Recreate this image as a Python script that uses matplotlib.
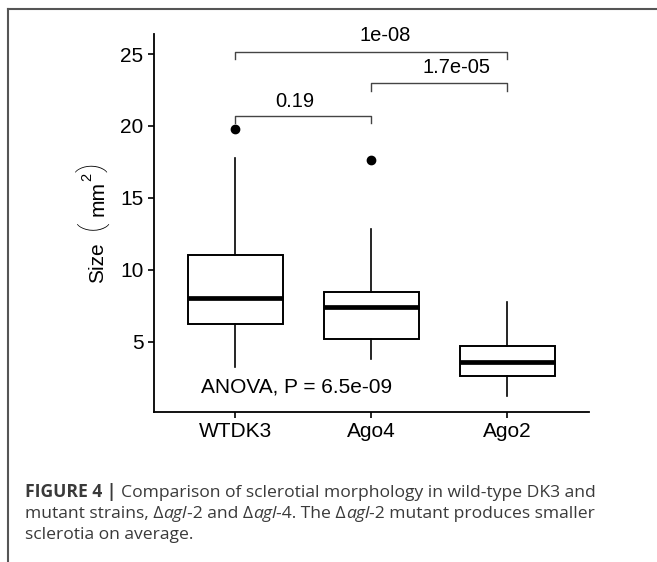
import matplotlib
matplotlib.use("Agg")
import matplotlib.pyplot as plt
from matplotlib.lines import Line2D

plt.rcParams['font.family'] = ['Liberation Sans', 'DejaVu Sans']

# data
groups = ["WTDK3", "Ago4", "Ago2"]
q1 = [6.2, 5.2, 2.63]
medians = [8.05, 7.4, 3.6]
q3 = [11.02, 8.45, 4.7]
whis_lo = [3.25, 3.77, 1.22]
whis_hi = [17.79, 12.8, 7.73]
fliers = [[19.8], [17.65], []]

pairs = [(1, 3), (2, 3), (1, 2)]
pair_labels = ["1e-08", "1.7e-05", "0.19"]
bracket_y = [25.16, 22.96, 20.71]
tip_y = [24.63, 22.43, 20.22]
label_x = [2.10, 2.63, 1.435]
label_y = [26.27, 24.07, 21.73]

anova_text = "ANOVA, P = 6.5e-09"

W, H = 657, 562
fig = plt.figure(figsize=(W / 100, H / 100), dpi=100)
ax = fig.add_axes([153.5 / W, 1 - 412 / H, (589 - 153.5) / W, (412 - 34.3) / H])

stats = []
for i, g in enumerate(groups):
    stats.append(dict(label=g, q1=q1[i], med=medians[i], q3=q3[i],
                      whislo=whis_lo[i], whishi=whis_hi[i], fliers=fliers[i]))

ax.bxp(stats, positions=[1, 2, 3], widths=0.7, showcaps=False, patch_artist=True,
       boxprops=dict(facecolor='white', edgecolor='black', linewidth=1.4),
       medianprops=dict(color='black', linewidth=3.4, solid_capstyle='butt'),
       whiskerprops=dict(color='black', linewidth=1.2),
       flierprops=dict(marker='o', markerfacecolor='black', markeredgecolor='black',
                       markersize=6))

for (a, b), lab, by, ty, lx, ly in zip(pairs, pair_labels, bracket_y, tip_y, label_x, label_y):
    ax.plot([a, a, b, b], [ty, by, by, ty], color='#444444', linewidth=1.0)
    ax.text(lx, ly, lab, ha='center', va='center', fontsize=14.5)

ax.text(0.75, 1.86, anova_text, ha='left', va='center', fontsize=15)

ax.set_xlim(0.4, 3.6)
ax.set_ylim(0.104, 26.37)
ax.set_yticks([5, 10, 15, 20, 25])
ax.set_xticks([1, 2, 3])
ax.set_xticklabels(groups)
ax.tick_params(labelsize=15, length=4.3, width=1.2, color='black', pad=3)
for s in ['top', 'right']:
    ax.spines[s].set_visible(False)
for s in ['left', 'bottom']:
    ax.spines[s].set_linewidth(1.3)

# y label in pieces: "Size ( mm^2 )" with tall thin brackets
# (text, fontsize, start y px, baseline x px, weight)
ylab_pieces = [("Size", 15, 283, 103.3, 'normal'),
               ("(", 23, 230, 100.5, 'light'),
               ("mm", 15, 216.5, 103.3, 'normal'),
               ("2", 10.5, 181, 91, 'normal'),
               (")", 23, 172, 100.5, 'light')]
for txt, fs, py, px, wt in ylab_pieces:
    fam = ['Roboto', 'Liberation Sans'] if txt in "()" else ['Liberation Sans']
    fig.text(px / W, 1 - py / H, txt, fontsize=fs, rotation=90, fontweight=wt,
             family=fam, rotation_mode='anchor', ha='left', va='baseline')

# frame of the figure panel
fig.add_artist(Line2D([8 / W, 1], [1 - 9 / H] * 2, color='#555555', linewidth=1.5))
fig.add_artist(Line2D([8 / W] * 2, [0, 1 - 9 / H], color='#555555', linewidth=1.5))

# caption, drawn run by run
cap_lines = [
    [("FIGURE 4 | ", 'bold', 'normal'),
     ("Comparison of sclerotial morphology in wild-type DK3 and", 'normal', 'normal')],
    [("mutant strains, Δ", 'normal', 'normal'), ("agl", 'normal', 'italic'),
     ("-2 and Δ", 'normal', 'normal'), ("agl", 'normal', 'italic'),
     ("-4. The Δ", 'normal', 'normal'), ("agl", 'normal', 'italic'),
     ("-2 mutant produces smaller", 'normal', 'normal')],
    [("sclerotia on average.", 'normal', 'normal')],
]
cap_base = [497, 518, 539]
cap_family = ['Open Sans', 'Liberation Sans', 'DejaVu Sans']
renderer = fig.canvas.get_renderer()


def draw_runs(runs, py, fs, visible=True):
    x = 25
    for txt, weight, style in runs:
        t = fig.text(x / W, 1 - py / H, txt, fontsize=fs, fontweight=weight,
                     fontstyle=style, color='#3a3a3a', ha='left', va='baseline',
                     family=cap_family)
        x += t.get_window_extent(renderer).width
        if not visible:
            t.remove()
    return x - 25


# scale the caption so its first line spans the same width as in the reference
probe = draw_runs(cap_lines[0], cap_base[0], 12, visible=False)
cap_fs = 12 * 567 / probe
for runs, py in zip(cap_lines, cap_base):
    draw_runs(runs, py, cap_fs)

fig.savefig("out.png", dpi=100)
